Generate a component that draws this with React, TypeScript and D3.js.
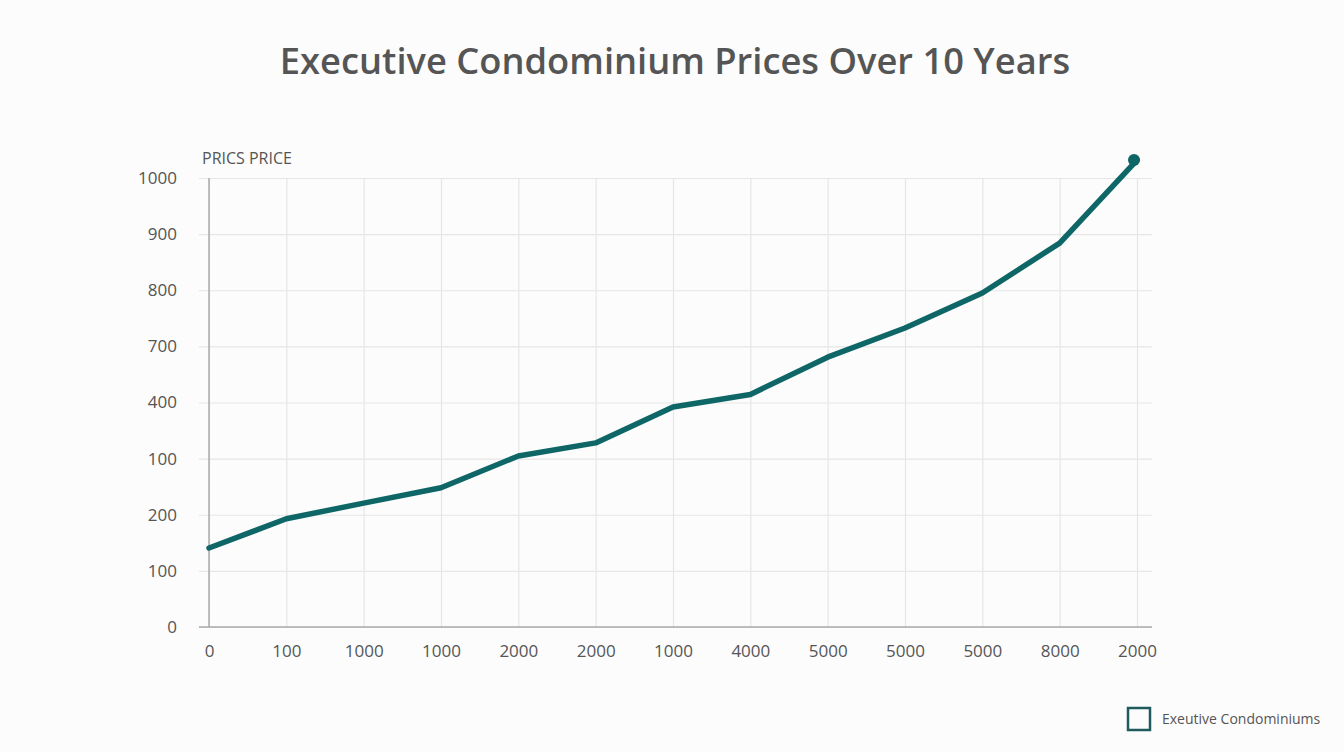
import React, { useEffect, useRef } from 'react';
import * as d3 from 'd3';

const WIDTH = 1344;
const HEIGHT = 752;

const TITLE = 'Executive Condominium Prices Over 10 Years';
const Y_TITLE = 'PRICS PRICE';
const LEGEND_LABEL = 'Exeutive Condominiums';

// x axis labels as printed on the chart
const xLabels = ['0', '100', '1000', '1000', '2000', '2000', '1000', '4000', '5000', '5000', '5000', '8000', '2000'];
// y axis labels, bottom to top, evenly spaced
const yLabels = ['0', '100', '200', '100', '400', '700', '800', '900', '1000'];
// prices, in the units of the evenly spaced y grid (0..1000)
const prices = [176, 241, 276, 310, 381, 410, 490, 518, 601, 666, 744, 855, 1040];

const COLOR = '#0e6667';
const margin = { l: 209, r: 207, t: 178, b: 125 };

const App = () => {
  const $x = useRef<SVGGElement>(null);
  const $y = useRef<SVGGElement>(null);
  const $grid = useRef<SVGGElement>(null);

  const w = WIDTH - margin.l - margin.r;
  const h = HEIGHT - margin.t - margin.b;

  const xScale = d3.scaleLinear().domain([0, xLabels.length - 1]).range([0, w]);
  const yScale = d3.scaleLinear().domain([0, 1000]).range([h, 0]);
  const yTicks = yLabels.map((_, i) => (i * 1000) / (yLabels.length - 1));

  const line = d3
    .line<number>()
    .x((d, i) => xScale(i))
    .y((d) => yScale(d));

  useEffect(() => {
    const grid = d3.select($grid.current);
    grid.selectAll('*').remove();
    // horizontal grid
    grid
      .append('g')
      .call(
        d3
          .axisLeft(yScale)
          .tickValues(yTicks)
          .tickSize(-(w + 25))
          .tickFormat('' as any) as any
      )
      .attr('transform', 'translate(-10,0)')
      .call((g) => g.select('.domain').remove())
      .call((g) => g.selectAll('line').attr('stroke', '#e6e6e6').attr('stroke-width', 1.2));
    // vertical grid
    grid
      .append('g')
      .call(
        d3
          .axisBottom(xScale)
          .tickValues(d3.range(xLabels.length))
          .tickSize(h)
          .tickFormat('' as any) as any
      )
      .call((g) => g.select('.domain').remove())
      .call((g) => g.selectAll('line').attr('stroke', '#e6e6e6').attr('stroke-width', 1.2));

    const yAxis = d3
      .axisLeft(yScale)
      .tickValues(yTicks)
      .tickSize(0)
      .tickPadding(32)
      .tickFormat((d, i) => yLabels[i]);
    d3.select($y.current)
      .call(yAxis as any)
      .call((g) => g.select('.domain').remove())
      .call((g) =>
        g
          .selectAll('text')
          .attr('fill', '#555')
          .attr('font-size', 17)
          .attr('font-family', 'Open Sans, sans-serif')
      );

    const xAxis = d3
      .axisBottom(xScale)
      .tickValues(d3.range(xLabels.length))
      .tickSize(0)
      .tickPadding(18)
      .tickFormat((d, i) => xLabels[i]);
    d3.select($x.current)
      .call(xAxis as any)
      .call((g) => g.select('.domain').remove())
      .call((g) =>
        g
          .selectAll('text')
          .attr('fill', '#555')
          .attr('font-size', 17)
          .attr('font-family', 'Open Sans, sans-serif')
      );
  }, [w, h, xScale, yScale, yTicks]);

  const last = prices.length - 1;

  return (
    <svg
      width={WIDTH}
      height={HEIGHT}
      viewBox={`0 0 ${WIDTH} ${HEIGHT}`}
      style={{ position: 'absolute', left: 0, top: 0, background: '#fcfcfc' }}
    >
      <text
        x={WIDTH / 2 + 3}
        y={74}
        textAnchor="middle"
        fontSize={36.3}
        fontWeight={600}
        fill="#555"
        fontFamily="'Open Sans', sans-serif"
      >
        {TITLE}
      </text>
      <g transform={`translate(${margin.l}, ${margin.t})`}>
        <g ref={$grid} />
        <line x1={0} x2={0} y1={0} y2={h} stroke="#aaa" strokeWidth={1.5} />
        <line x1={-10} x2={w + 15} y1={h} y2={h} stroke="#aaa" strokeWidth={1.5} />
        <g ref={$y} />
        <g ref={$x} transform={`translate(0, ${h})`} />
        <text x={-7} y={-14} fontSize={16} fill="#555" fontFamily="'Open Sans', sans-serif">
          {Y_TITLE}
        </text>
        <path
          d={line(prices) || ''}
          fill="none"
          stroke={COLOR}
          strokeWidth={5.5}
          strokeLinejoin="round"
          strokeLinecap="round"
        />
        <circle cx={xScale(last) - 3} cy={yScale(prices[last])} r={6} fill={COLOR} />
      </g>
      <g transform="translate(1127, 707)">
        <rect x={1} y={1} width={22} height={22} fill="none" stroke="#1f5a5c" strokeWidth={2.5} />
        <text x={35} y={17} fontSize={14} fill="#555" fontFamily="'Open Sans', sans-serif">
          {LEGEND_LABEL}
        </text>
      </g>
    </svg>
  );
};

export default App;
